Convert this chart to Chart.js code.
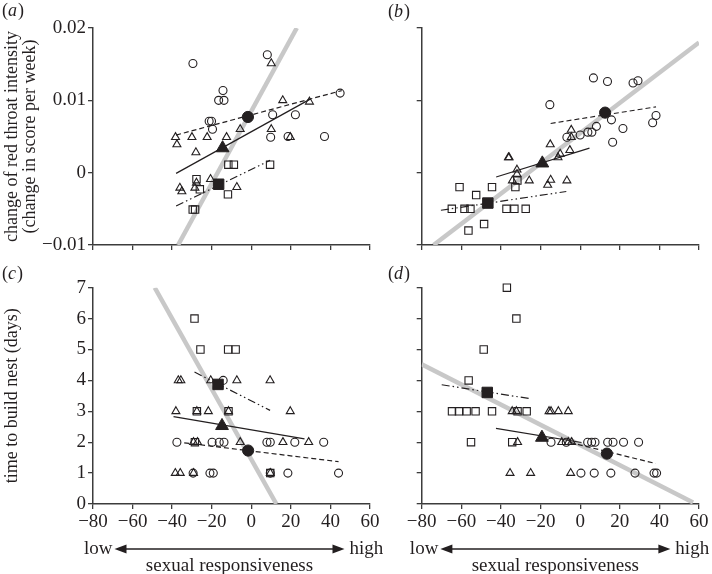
<!DOCTYPE html>
<html><head><meta charset="utf-8">
<script src="https://cdn.jsdelivr.net/npm/chart.js@4/dist/chart.umd.min.js"></script>
<style>
html,body{margin:0;padding:0;background:#fff;width:712px;height:574px;overflow:hidden;}
canvas.p{position:absolute;left:0;top:0;width:712px;height:574px;}
</style>
</head><body>
<canvas class="p" id="pa" width="712" height="574"></canvas>
<canvas class="p" id="pb" width="712" height="574"></canvas>
<canvas class="p" id="pc" width="712" height="574"></canvas>
<canvas class="p" id="pd" width="712" height="574"></canvas>
<script>
// ---------- tick values / labels ----------
const xTicks = [-80,-60,-40,-20,0,20,40,60];
const xTickLabels = ['\u221280','\u221260','\u221240','\u221220','0','20','40','60'];
const topYTicks = [-0.01,0,0.01,0.02];
const topYTickLabels = ['\u22120.01','0','0.01','0.02'];
const botYTicks = [0,1,2,3,4,5,6,7];
const botYTickLabels = ['0','1','2','3','4','5','6','7'];

// ---------- panel (a) ----------
const aCircles = [[-29.5,0.0151],[8.1,0.0163],[-14.3,0.01135],[-16.5,0.0100],[-13.8,0.0100],[-21.3,0.0071],[-20.1,0.0071],[-19.6,0.0060],[10.8,0.0080],[22.3,0.0080],[9.8,0.0049],[18.6,0.0050],[37.0,0.0050],[44.9,0.0110]];
const aTriangles = [[10.1,0.0151],[15.9,0.0100],[29.4,0.0098],[-5.6,0.0060],[10.1,0.0060],[19.7,0.0049],[-38.3,0.0049],[-37.6,0.0039],[-30.0,0.0049],[-22.3,0.0049],[-12.5,0.0049],[-28.0,0.0028],[-20.6,-0.0009],[-36.1,-0.0021],[-35.1,-0.0026],[-27.7,-0.0014],[-28.5,-0.0021],[-7.3,-0.0020]];
const aSquares = [[-27.7,-0.0009],[-26.0,-0.0023],[-29.6,-0.0051],[-28.4,-0.0051],[-11.6,0.0011],[-8.8,0.0011],[-11.8,-0.0030],[9.5,0.0011]];
const aMeanCircle = [-1.7,0.0077];
const aMeanTriangle = [-14.5,0.0034];
const aMeanSquare = [-16.5,-0.0016];
const aFitCircle = [[-38,0.0052],[45.7,0.01135]];
const aFitTriangle = [[-38,-0.0001],[30,0.0102]];
const aFitSquare = [[-38,-0.0046],[9.5,0.0017]];
const aFitAll = [[-37,-0.01],[23,0.02]];

// ---------- panel (b) ----------
const bCircles = [[-15.3,0.0094],[6.7,0.0131],[13.8,0.0126],[26.7,0.0124],[29.2,0.0127],[-6.7,0.0049],[0.0,0.0052],[3.9,0.0056],[5.9,0.0056],[8.2,0.0064],[15.8,0.0073],[21.6,0.0061],[16.4,0.0042],[36.6,0.0069],[38.3,0.0079]];
const bTriangles = [[-35.9,0.0021],[-36.2,0.0021],[-31.9,0.0004],[-31.9,-0.0002],[-34.2,-0.0011],[-25.7,-0.0011],[-15.1,0.0039],[-14.9,-0.0010],[-16.4,-0.0017],[-10.1,0.0026],[-11.2,0.0021],[-6.7,-0.0011],[-5.2,0.0031],[-4.5,0.0059],[-4.5,0.0049]];
const bSquares = [[-60.9,-0.0020],[-44.5,-0.0020],[-52.5,-0.0031],[-64.8,-0.0050],[-58.4,-0.0050],[-55.4,-0.0050],[-56.4,-0.0080],[-48.5,-0.0071],[-37.2,-0.0050],[-33.2,-0.0050],[-27.5,-0.0050],[-32.7,-0.0020],[-31.7,-0.0011]];
const bMeanCircle = [12.6,0.0083];
const bMeanTriangle = [-19.1,0.0013];
const bMeanSquare = [-46.6,-0.0042];
const bFitCircle = [[-14.9,0.0068],[38.3,0.0091]];
const bFitTriangle = [[-42.4,-0.0006],[4.7,0.0034]];
const bFitSquare = [[-70.3,-0.0052],[-7,-0.0026]];
const bFitAll = [[-74,-0.01],[60,0.0180]];

// ---------- panel (c) ----------
const cCircles = [[-37.6,2],[-19.8,2],[-16.2,2],[-13.8,2],[7.9,2],[9.6,2],[22.0,2],[36.6,2],[-14.2,4],[-29.4,1],[-20.9,1],[-19.2,1],[9.6,1],[18.5,1],[44.1,1]];
const cTriangles = [[-36.9,4],[-35.6,4],[-20.5,4],[-7.3,4],[9.5,4],[-38.1,3],[-27.5,3],[-21.7,3],[-11.5,3],[19.7,3],[-29.2,2],[-27.2,2],[-5.6,2],[16.0,2],[29.0,2],[-38.4,1],[-35.9,1],[-29.2,1],[9.6,1]];
const cSquares = [[-28.7,6],[-25.7,5],[-11.7,5],[-7.9,5],[-27.5,3],[-11.5,3],[-28.5,2],[9.6,1]];
const cMeanCircle = [-1.6,1.73];
const cMeanTriangle = [-14.8,2.53];
const cMeanSquare = [-16.8,3.87];
const cFitCircle = [[-33.9,1.98],[44.1,1.37]];
const cFitTriangle = [[-39.3,2.83],[26.9,2.11]];
const cFitSquare = [[-28.7,4.27],[9.5,3.03]];
const cFitAll = [[-48.8,7],[12.7,0]];

// ---------- panel (d) ----------
const dCircles = [[-14.7,2],[-7.0,2],[3.8,2],[5.8,2],[7.5,2],[13.9,2],[16.6,2],[21.9,2],[29.5,2],[0.4,1],[7.1,1],[15.5,1],[27.7,1],[37.3,1],[38.6,1]];
const dTriangles = [[-34.3,3],[-32.2,3],[-15.7,3],[-14.7,3],[-11.0,3],[-6.0,3],[-31.6,2],[-9.3,2],[-6.0,2],[-4.3,2],[-35.4,1],[-25.0,1],[-4.8,1]];
const dSquares = [[-37.0,7],[-32.2,6],[-48.7,5],[-56.3,4],[-64.7,3],[-61.2,3],[-57.3,3],[-52.8,3],[-44.5,3],[-31.6,3],[-27.0,3],[-55.1,2],[-34.3,2]];
const dMeanCircle = [13.5,1.63];
const dMeanTriangle = [-19.3,2.15];
const dMeanSquare = [-46.9,3.61];
const dFitCircle = [[-5.1,1.99],[38.1,1.31]];
const dFitTriangle = [[-42.5,2.45],[0.7,1.99]];
const dFitSquare = [[-69.9,3.86],[-24.5,3.40]];
const dFitAll = [[-80,4.52],[57,0.05]];

// ---------- styling ----------
const SERIF = '"Liberation Serif", "DejaVu Serif", serif';
const INK = '#231f20';
const AXIS = '#3c3c3c';

function xy(arr){ return arr.map(p => ({x:p[0], y:p[1]})); }

function lineDs(arr, color, width, dash, order){
  return {type:'line', data:xy(arr), borderColor:color, borderWidth:width, borderDash:dash,
          pointRadius:0, pointHoverRadius:0, fill:false, tension:0, order:order, borderCapStyle:'butt'};
}
function ptDs(arr, style, r, filled, order){
  return {type:'scatter', data:xy(arr), pointStyle:style, pointRadius:r, pointHoverRadius:r,
          pointBackgroundColor: filled ? INK : 'rgba(255,255,255,0)',
          pointBorderColor: INK, pointBorderWidth: filled ? 1 : 1.1, order:order, clip:false};
}
function datasets(circ, tri, sq, mc, mt, ms, fc, ft, fs, fa){
  return [
    lineDs(fa, '#c8c8c8', 4.5, [], 100),
    lineDs(fc, INK, 1.2, [5,3], 50),
    lineDs(ft, INK, 1.2, [], 50),
    lineDs(fs, INK, 1.2, [8,3,1.5,3,1.5,3], 50),
    ptDs(circ, 'circle', 4, false, 20),
    ptDs(tri, 'triangle', 4.6, false, 20),
    ptDs(sq, 'rect', 5.2, false, 20),
    ptDs([mc], 'circle', 5.6, true, 1),
    ptDs([mt], 'triangle', 7.4, true, 1),
    ptDs([ms], 'rect', 7.4, true, 1)
  ];
}

function xScale(showLabels, h){
  return {type:'linear', min:-80, max:60,
    afterBuildTicks: s => { s.ticks = xTicks.map(v => ({value:v})); },
    ticks:{display:showLabels, autoSkip:false, maxRotation:0, minRotation:0, padding:2, color:INK,
           font:{family:SERIF, size:19}, callback:(v,i) => xTickLabels[i]},
    grid:{display:true, drawOnChartArea:false, drawTicks:true, tickLength:5, color:AXIS, lineWidth:1.3},
    border:{display:true, color:AXIS, width:1.5},
    afterFit: s => { s.height = h; }
  };
}
function yScale(min, max, vals, labels, showLabels, w, title){
  const sc = {type:'linear', min:min, max:max,
    afterBuildTicks: s => { s.ticks = vals.map(v => ({value:v})); },
    ticks:{display:showLabels, autoSkip:false, padding:2, color:INK,
           font:{family:SERIF, size:19}, callback:(v,i) => labels[i]},
    grid:{display:true, drawOnChartArea:false, drawTicks:true, tickLength:5, color:AXIS, lineWidth:1.3},
    border:{display:true, color:AXIS, width:1.5},
    afterFit: s => { s.width = w; }
  };
  if (title) {
    sc.title = {display:true, text:title, color:INK, font:{family:SERIF, size:18, lineHeight:1},
                padding:{top:3, bottom:0}};
  }
  return sc;
}

const annot = {
  id:'annot',
  afterDraw(chart, args, o){
    const ctx = chart.ctx;
    ctx.save();
    ctx.fillStyle = INK; ctx.strokeStyle = INK;
    ctx.textBaseline = 'middle';
    if (o.label){
      let x = o.lx; const y = o.ly;
      ctx.textAlign = 'left';
      ctx.font = '18px ' + SERIF;
      ctx.fillText('(', x, y); x += ctx.measureText('(').width;
      ctx.font = 'italic 18px ' + SERIF;
      ctx.fillText(o.label, x, y); x += ctx.measureText(o.label).width + 1;
      ctx.font = '18px ' + SERIF;
      ctx.fillText(')', x, y);
    }
    if (o.arrow){
      const ca = chart.chartArea;
      const cx = (ca.left + ca.right)/2 + o.dx;
      const half = 115, y = 549, hl = 12, hw = 4.5;
      ctx.lineWidth = 1.6;
      ctx.beginPath(); ctx.moveTo(cx-half+hl-1, y); ctx.lineTo(cx+half-hl+1, y); ctx.stroke();
      ctx.beginPath(); ctx.moveTo(cx-half, y); ctx.lineTo(cx-half+hl, y-hw); ctx.lineTo(cx-half+hl, y+hw); ctx.closePath(); ctx.fill();
      ctx.beginPath(); ctx.moveTo(cx+half, y); ctx.lineTo(cx+half-hl, y-hw); ctx.lineTo(cx+half-hl, y+hw); ctx.closePath(); ctx.fill();
      ctx.font = '19px ' + SERIF;
      ctx.textAlign = 'right'; ctx.fillText('low', cx-half-2, y);
      ctx.textAlign = 'left'; ctx.fillText('high', cx+half+5, y);
      ctx.textAlign = 'center'; ctx.fillText('sexual responsiveness', cx, 566);
    }
    ctx.restore();
  }
};

function makeChart(id, ds, scales, padding, annotOpts){
  return new Chart(document.getElementById(id), {
    type:'scatter',
    data:{datasets:ds},
    options:{
      responsive:false, animation:false, devicePixelRatio:1,
      layout:{padding:padding},
      plugins:{legend:{display:false}, tooltip:{enabled:false}, annot:annotOpts},
      events:[],
      scales:scales
    },
    plugins:[annot]
  });
}

makeChart('pa',
  datasets(aCircles,aTriangles,aSquares,aMeanCircle,aMeanTriangle,aMeanSquare,aFitCircle,aFitTriangle,aFitSquare,aFitAll),
  {x:xScale(false,13), y:yScale(-0.01,0.02,topYTicks,topYTickLabels,true,93,['change of red throat intensity','(change in score per week)'])},
  {left:0, top:28, right:342, bottom:316},
  {label:'a', lx:2, ly:11, arrow:false});

makeChart('pb',
  datasets(bCircles,bTriangles,bSquares,bMeanCircle,bMeanTriangle,bMeanSquare,bFitCircle,bFitTriangle,bFitSquare,bFitAll),
  {x:xScale(false,13), y:yScale(-0.01,0.02,topYTicks,topYTickLabels,false,41.7,null)},
  {left:380, top:28, right:13, bottom:316},
  {label:'b', lx:388, ly:12, arrow:false});

makeChart('pc',
  datasets(cCircles,cTriangles,cSquares,cMeanCircle,cMeanTriangle,cMeanSquare,cFitCircle,cFitTriangle,cFitSquare,cFitAll),
  {x:xScale(true,30), y:yScale(0,7,botYTicks,botYTickLabels,true,93,'time to build nest (days)')},
  {left:0, top:287.7, right:342, bottom:40},
  {label:'c', lx:2, ly:274, arrow:true, dx:-2});

makeChart('pd',
  datasets(dCircles,dTriangles,dSquares,dMeanCircle,dMeanTriangle,dMeanSquare,dFitCircle,dFitTriangle,dFitSquare,dFitAll),
  {x:xScale(true,30), y:yScale(0,7,botYTicks,botYTickLabels,false,41.7,null)},
  {left:380, top:287.7, right:13, bottom:40},
  {label:'d', lx:388, ly:274, arrow:true, dx:-5});
</script>
</body></html>
